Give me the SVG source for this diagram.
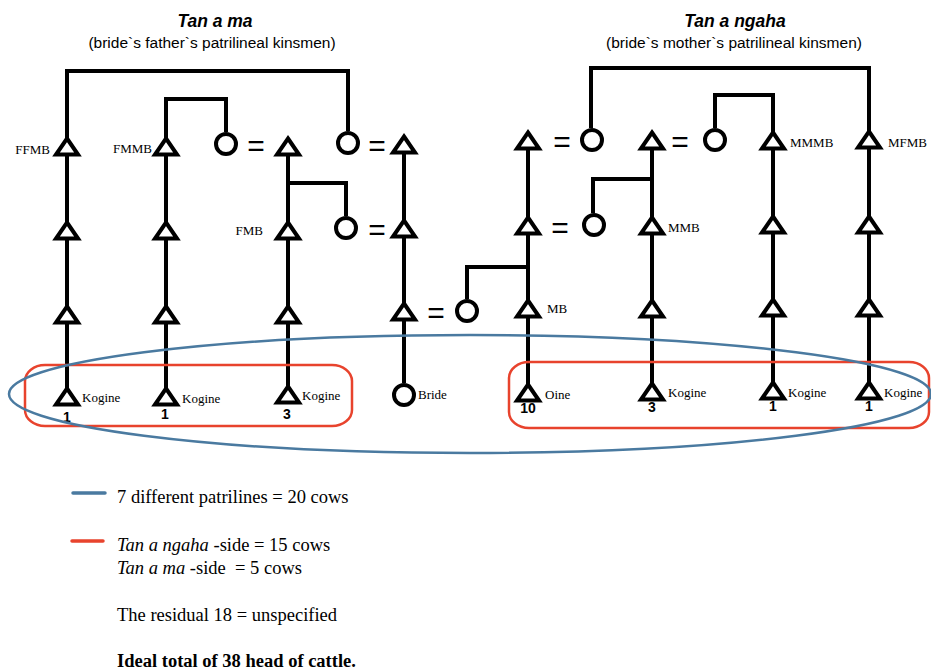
<svg xmlns="http://www.w3.org/2000/svg" xmlns:xlink="http://www.w3.org/1999/xlink" width="931" height="670" viewBox="0 0 931 670">
<style>
.ln{stroke:#000;stroke-width:4;fill:none;stroke-linecap:butt;stroke-linejoin:miter}
.tri{fill:#fff;stroke:#000;stroke-width:4;stroke-linejoin:miter}
.cir{fill:#fff;stroke:#000;stroke-width:4}
.lbl{font-family:"Liberation Serif","Times New Roman",serif;font-size:13px;fill:#000}
.num{font-family:"Liberation Sans",Arial,sans-serif;font-size:14px;font-weight:bold;fill:#000;text-anchor:middle}
.eq{font-family:"Liberation Sans",Arial,sans-serif;font-size:30px;fill:#000;text-anchor:middle}
.title{font-family:"Liberation Sans",Arial,sans-serif;font-size:17.5px;font-weight:bold;font-style:italic;text-anchor:middle}
.sub{font-family:"Liberation Sans",Arial,sans-serif;font-size:15.5px;text-anchor:middle}
.leg{font-family:"Liberation Serif","Times New Roman",serif;font-size:18.5px;fill:#000;white-space:pre}
.red{fill:none;stroke:#e8432d;stroke-width:2.5}
.blue{fill:none;stroke:#4a7aa0;stroke-width:2.5}
</style>
<defs>
<path id="tri" d="M0,3.5 L11,19.5 L-11,19.5 Z"/>
</defs>
<rect width="931" height="670" fill="#fff"/>

<g id="titles">
<text class="title" x="215" y="27">Tan a ma</text>
<text class="sub" x="212" y="48">(bride`s father`s patrilineal kinsmen)</text>
<text class="title" x="735" y="27">Tan a ngaha</text>
<text class="sub" x="734" y="48">(bride`s mother`s patrilineal kinsmen)</text>
</g>

<g id="connectors">
<path class="ln" d="M67,388 V71 H348 V131"/>
<path class="ln" d="M166,388 V99 H226 V132"/>
<path class="ln" d="M288,150 V386"/>
<path class="ln" d="M288,183 H346 V216"/>
<path class="ln" d="M404,150 V383"/>
<path class="ln" d="M591,128 V68 H869 V382"/>
<path class="ln" d="M715,128 V95 H773 V382"/>
<path class="ln" d="M652,145 V383"/>
<path class="ln" d="M652,179 H593 V213"/>
<path class="ln" d="M528,145 V384"/>
<path class="ln" d="M528,267 H467 V299"/>
<text class="eq" x="256" y="156">=</text>
<text class="eq" x="377" y="156">=</text>
<text class="eq" x="377" y="240">=</text>
<text class="eq" x="436" y="323">=</text>
<text class="eq" x="562" y="152">=</text>
<text class="eq" x="680" y="152">=</text>
<text class="eq" x="560" y="238">=</text>
</g>

<g id="col1">
<use href="#tri" class="tri" x="67" y="135"/>
<use href="#tri" class="tri" x="67" y="219"/>
<use href="#tri" class="tri" x="67" y="303"/>
<use href="#tri" class="tri" x="67" y="385"/>
<text class="lbl" x="50" y="154" text-anchor="end">FFMB</text>
<text class="lbl" x="82" y="402">Kogine</text>
<text class="num" x="67" y="422">1</text>
</g>
<g id="col2">
<use href="#tri" class="tri" x="166" y="135"/>
<use href="#tri" class="tri" x="166" y="219"/>
<use href="#tri" class="tri" x="166" y="303"/>
<use href="#tri" class="tri" x="166" y="385"/>
<text class="lbl" x="152" y="153" text-anchor="end">FMMB</text>
<text class="lbl" x="182" y="403">Kogine</text>
<text class="num" x="165" y="419">1</text>
</g>
<g id="col3">
<use href="#tri" class="tri" x="288" y="135"/>
<use href="#tri" class="tri" x="288" y="219"/>
<use href="#tri" class="tri" x="288" y="303"/>
<use href="#tri" class="tri" x="288" y="383"/>
<text class="lbl" x="263" y="235" text-anchor="end">FMB</text>
<text class="lbl" x="302" y="400">Kogine</text>
<text class="num" x="287" y="419">3</text>
</g>
<g id="col4">
<use href="#tri" class="tri" x="404" y="133"/>
<use href="#tri" class="tri" x="404" y="217"/>
<use href="#tri" class="tri" x="404" y="300"/>
</g>
<g id="bride">
<circle class="cir" cx="404" cy="395" r="10"/>
<text class="lbl" x="418" y="399">Bride</text>
</g>
<g id="left-women">
<circle class="cir" cx="226" cy="144" r="10"/>
<circle class="cir" cx="348" cy="143" r="10"/>
<circle class="cir" cx="346" cy="228" r="10"/>
<circle class="cir" cx="467" cy="311" r="10"/>
</g>

<g id="col5">
<use href="#tri" class="tri" x="528" y="129"/>
<use href="#tri" class="tri" x="528" y="214"/>
<use href="#tri" class="tri" x="528" y="297"/>
<use href="#tri" class="tri" x="528" y="381"/>
<text class="lbl" x="547" y="313">MB</text>
<text class="lbl" x="545" y="399">Oine</text>
<text class="num" x="528" y="413">10</text>
</g>
<g id="col6">
<use href="#tri" class="tri" x="652" y="129"/>
<use href="#tri" class="tri" x="652" y="214"/>
<use href="#tri" class="tri" x="652" y="297"/>
<use href="#tri" class="tri" x="652" y="380"/>
<text class="lbl" x="668" y="232">MMB</text>
<text class="lbl" x="668" y="397">Kogine</text>
<text class="num" x="652" y="412">3</text>
</g>
<g id="col7">
<use href="#tri" class="tri" x="773" y="129"/>
<use href="#tri" class="tri" x="773" y="213"/>
<use href="#tri" class="tri" x="773" y="296"/>
<use href="#tri" class="tri" x="773" y="379"/>
<text class="lbl" x="790" y="147">MMMB</text>
<text class="lbl" x="788" y="397">Kogine</text>
<text class="num" x="773" y="411">1</text>
</g>
<g id="col8">
<use href="#tri" class="tri" x="869" y="128"/>
<use href="#tri" class="tri" x="869" y="213"/>
<use href="#tri" class="tri" x="869" y="296"/>
<use href="#tri" class="tri" x="869" y="379"/>
<text class="lbl" x="888" y="147">MFMB</text>
<text class="lbl" x="884" y="397">Kogine</text>
<text class="num" x="869" y="411">1</text>
</g>
<g id="right-women">
<circle class="cir" cx="592" cy="140" r="10"/>
<circle class="cir" cx="715" cy="140" r="10"/>
<circle class="cir" cx="594" cy="225" r="10"/>
</g>

<g id="groupings">
<rect class="red" x="25" y="365" width="327" height="61" rx="20" ry="16"/>
<rect class="red" x="509" y="362" width="420" height="66" rx="20" ry="16"/>
<ellipse class="blue" cx="470" cy="394" rx="461" ry="59"/>
</g>

<g id="legend">
<line x1="73" y1="493" x2="105" y2="493" stroke="#4a7aa0" stroke-width="3.5" stroke-linecap="round"/>
<text class="leg" x="117" y="503">7 different patrilines = 20 cows</text>
<line x1="72" y1="541" x2="103" y2="541" stroke="#e8432d" stroke-width="3.5" stroke-linecap="round"/>
<text class="leg" x="117" y="551"><tspan font-style="italic">Tan a ngaha</tspan> -side = 15 cows</text>
<text class="leg" x="117" y="574"><tspan font-style="italic">Tan a ma</tspan> -side  = 5 cows</text>
<text class="leg" x="117" y="621">The residual 18 = unspecified</text>
<text class="leg" x="117" y="667" font-weight="bold">Ideal total of 38 head of cattle.</text>
</g>
</svg>
